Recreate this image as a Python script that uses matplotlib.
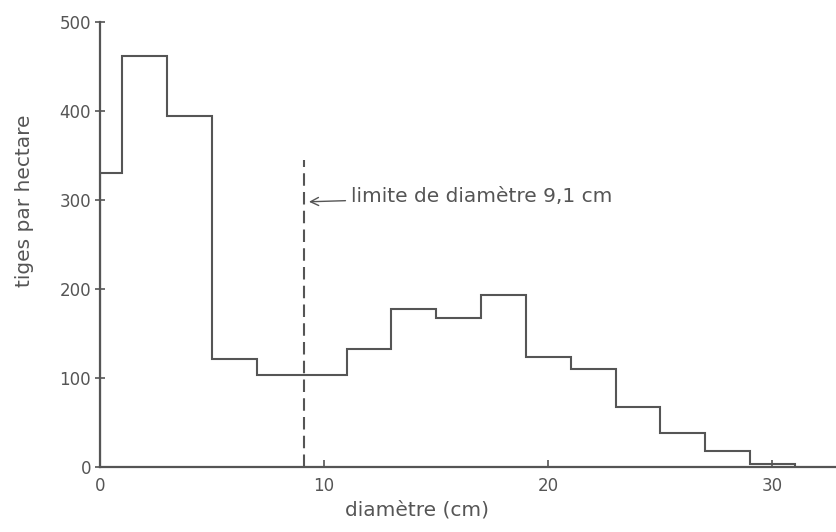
import matplotlib.pyplot as plt

# Classes de diamètre (cm) et nombre de tiges par hectare
bornes = [0, 1, 3, 5, 7, 9, 11, 13, 15, 17, 19, 21, 23, 25, 27, 29, 31]
tiges = [330, 462, 395, 122, 104, 103, 133, 178, 168, 193, 124, 110, 68, 38, 18, 3]
limite = 9.1
xticks = [0, 10, 20, 30]
yticks = [0, 100, 200, 300, 400, 500]

gris = "#555555"

fig = plt.figure(figsize=(8.36, 5.32), dpi=100)
ax = fig.add_axes([0.1196, 0.122, 0.8794, 0.8365])

ax.stairs(tiges, bornes, color=gris, linewidth=1.5, baseline=0)

# limite de diamètre
ax.plot([limite, limite], [0, 345], color=gris, linewidth=1.5,
        linestyle=(0, (6, 3)))
ax.annotate("limite de diamètre 9,1 cm", xy=(limite + 0.1, 298),
            xytext=(11.2, 304), fontsize=14.5, color=gris, va="center",
            arrowprops=dict(arrowstyle="->", color=gris, lw=1))

ax.set_xlim(0, 32.8)
ax.set_ylim(0, 500)
ax.set_xticks(xticks)
ax.set_yticks(yticks)
ax.tick_params(axis="x", direction="in", length=5, width=1.2,
               labelsize=12, labelcolor=gris, color=gris, pad=7)
ax.tick_params(axis="y", direction="inout", length=7, width=1.2,
               labelsize=12, labelcolor=gris, color=gris, pad=3)

for s in ["top", "right"]:
    ax.spines[s].set_visible(False)
for s in ["left", "bottom"]:
    ax.spines[s].set_color(gris)
    ax.spines[s].set_linewidth(1.6)

ax.set_xlabel("diamètre (cm)", fontsize=14.5, color=gris)
ax.set_ylabel("tiges par hectare", fontsize=14.5, color=gris)
ax.xaxis.set_label_coords(0.431, -0.075)
ax.yaxis.set_label_coords(-0.09, 0.598)

fig.savefig("out.png", dpi=100)
